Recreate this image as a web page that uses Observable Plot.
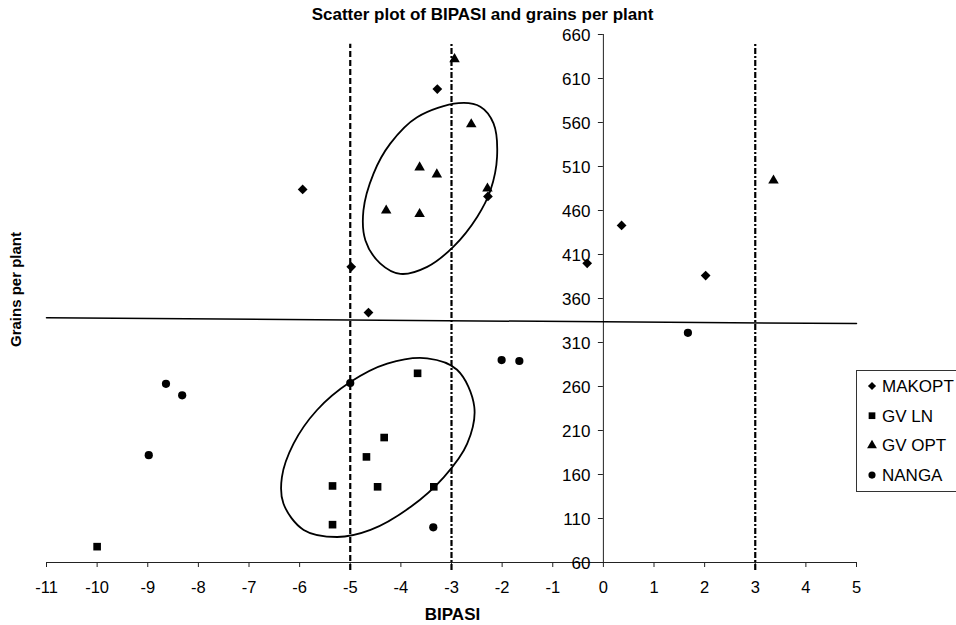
<!DOCTYPE html>
<html><head><meta charset="utf-8">
<script src="https://cdn.jsdelivr.net/npm/d3@7"></script>
<script src="https://cdn.jsdelivr.net/npm/@observablehq/plot@0.6"></script>
<style>
body{margin:0;background:#fff;overflow:hidden}
#wrap{position:relative;width:956px;height:625px;overflow:hidden;font-family:"Liberation Sans",Arial,sans-serif}
#legend{position:absolute;left:856px;top:370px}
</style></head><body><div id="wrap"></div>
<script>
// ---- data ----
const seriesNames = ["MAKOPT", "GV LN", "GV OPT", "NANGA"];
const makoptX = [-5.94, -3.28, -4.98, -4.64, -2.28, 0.36, -0.32, 2.02];
const makoptY = [484, 598, 396, 344, 476, 443, 400, 386];
const gvlnX = [-10.0, -3.67, -4.33, -4.68, -5.35, -4.46, -3.35, -5.35];
const gvlnY = [78, 275, 202, 180, 147, 146, 146, 103];
const gvoptX = [-2.94, -2.61, -3.63, -3.29, -4.29, -3.63, -2.29, 3.36];
const gvoptY = [632, 558, 509, 501, 460, 456, 485, 494];
const nangaX = [-8.64, -8.32, -8.98, -5.0, -3.36, -2.01, -1.66, 1.67];
const nangaY = [263, 250, 182, 264, 100, 290, 289, 321];

const xTicks = [-11, -10, -9, -8, -7, -6, -5, -4, -3, -2, -1, 0, 1, 2, 3, 4, 5];
const yTicks = [60, 110, 160, 210, 260, 310, 360, 410, 460, 510, 560, 610, 660];

// reference lines
const dashedX = [-5];
const dashDotX = [-3, 3];
const vLineY = [51, 649];
const hLineX = [-11, 5];
const hLineY = [338, 331.5];

// hand-drawn ellipses (outline points)
const upperEllipseX = [-2.86, -3.68, -4.21, -4.54, -4.74, -4.70, -4.41, -4.01, -3.48, -2.96, -2.49, -2.23, -2.10, -2.17, -2.43];
const upperEllipseY = [582, 566, 536, 502, 460, 426, 400, 388, 396, 419, 453, 483, 521, 559, 578];
const lowerEllipseX = [-3.48, -2.89, -2.55, -2.69, -3.15, -3.81, -4.60, -5.26, -5.92, -6.32, -6.35, -6.12, -5.66, -5.00, -4.27];
const lowerEllipseY = [292, 279, 237, 195, 157, 123, 97, 89, 97, 127, 157, 195, 233, 265, 286];

const titleText = "Scatter plot of BIPASI and grains per plant";
const xLabel = "BIPASI";
const yLabel = "Grains per plant";

// ---- build ----
const zip = (xs, ys) => xs.map((x, i) => ({x, y: ys[i]}));
const makopt = zip(makoptX, makoptY);
const gvln = zip(gvlnX, gvlnY);
const gvopt = zip(gvoptX, gvoptY);
const nanga = zip(nangaX, nangaY);
const upperEllipse = zip(upperEllipseX, upperEllipseY);
const lowerEllipse = zip(lowerEllipseX, lowerEllipseY);
const hLine = zip(hLineX, hLineY);

const font = '"Liberation Sans", Arial, sans-serif';

const chart = Plot.plot({
  width: 956, height: 625,
  marginLeft: 46, marginRight: 100, marginTop: 34, marginBottom: 63,
  x: {domain: [-11, 5], axis: null},
  y: {domain: [60, 660], axis: null},
  style: {fontFamily: font, fontSize: "16px", color: "#000", background: "#fff", overflow: "visible"},
  marks: [
    Plot.ruleY([60], {x1: -11, x2: 5, stroke: "#222", strokeWidth: 1}),
    Plot.ruleX([0], {y1: 60, y2: 660, stroke: "#222", strokeWidth: 1}),
    Plot.axisX(xTicks, {tickSize: 5, tickPadding: 14, tickFormat: d => String(d), label: null, stroke: "#222", fontSize: 16.5}),
    Plot.ruleY(yTicks, {x1: 0, x2: 0, insetLeft: -5, stroke: "#222"}),
    Plot.text(yTicks, {x: 0, y: d => d, text: d => String(d), textAnchor: "end", dx: -13, dy: 1, fontSize: 17}),
    Plot.line(hLine, {x: "x", y: "y", stroke: "#000", strokeWidth: 1.5}),
    Plot.ruleX(dashedX, {y1: vLineY[0], y2: vLineY[1], stroke: "#000", strokeWidth: 2.2, strokeDasharray: "6,3"}),
    Plot.ruleX(dashDotX, {y1: vLineY[0], y2: vLineY[1], stroke: "#000", strokeWidth: 2.2, strokeDasharray: "6,2,2,2"}),
    Plot.line(upperEllipse, {x: "x", y: "y", curve: "catmull-rom-closed", stroke: "#000", strokeWidth: 1.8}),
    Plot.line(lowerEllipse, {x: "x", y: "y", curve: "catmull-rom-closed", stroke: "#000", strokeWidth: 1.8}),
    Plot.dot(makopt, {x: "x", y: "y", symbol: "diamond2", r: 4.4, fill: "#000"}),
    Plot.dot(gvln, {x: "x", y: "y", symbol: "square", r: 4.3, fill: "#000"}),
    Plot.dot(gvopt, {x: "x", y: "y", symbol: "triangle", r: 3.9, fill: "#000"}),
    Plot.dot(nanga, {x: "x", y: "y", symbol: "circle", r: 4.1, fill: "#000"}),
    Plot.text([titleText], {text: d => d, frameAnchor: "top", lineAnchor: "middle", dx: 31, dy: -20, fontWeight: "bold", fontSize: 17}),
    Plot.text([xLabel], {text: d => d, frameAnchor: "bottom", lineAnchor: "middle", dx: 1, dy: 52, fontWeight: "bold", fontSize: 17}),
    Plot.text([yLabel], {text: d => d, frameAnchor: "left", textAnchor: "middle", lineAnchor: "middle", dx: -30, dy: -9, rotate: -90, fontWeight: "bold", fontSize: 15})
  ]
});

const wrap = document.getElementById("wrap");
wrap.appendChild(chart);

// legend
const symbolTypes = [d3.symbolDiamond2, d3.symbolSquare, d3.symbolTriangle, d3.symbolCircle];
const symbolSizes = [42, 45, 42, 40];
const lg = d3.select(wrap).append("svg").attr("id", "legend")
  .attr("width", 130).attr("height", 124)
  .style("font-family", font);
lg.append("rect").attr("x", 0.5).attr("y", 0.5).attr("width", 140).attr("height", 121)
  .attr("fill", "#fff").attr("stroke", "#333").attr("stroke-width", 1);
seriesNames.forEach((name, i) => {
  const cy = 16 + i * 29.7;
  lg.append("path").attr("d", d3.symbol(symbolTypes[i], symbolSizes[i])())
    .attr("transform", `translate(16,${cy})`).attr("fill", "#000");
  lg.append("text").attr("x", 26).attr("y", cy).attr("dy", "0.35em")
    .attr("font-size", 17).text(name);
});
</script></body></html>
